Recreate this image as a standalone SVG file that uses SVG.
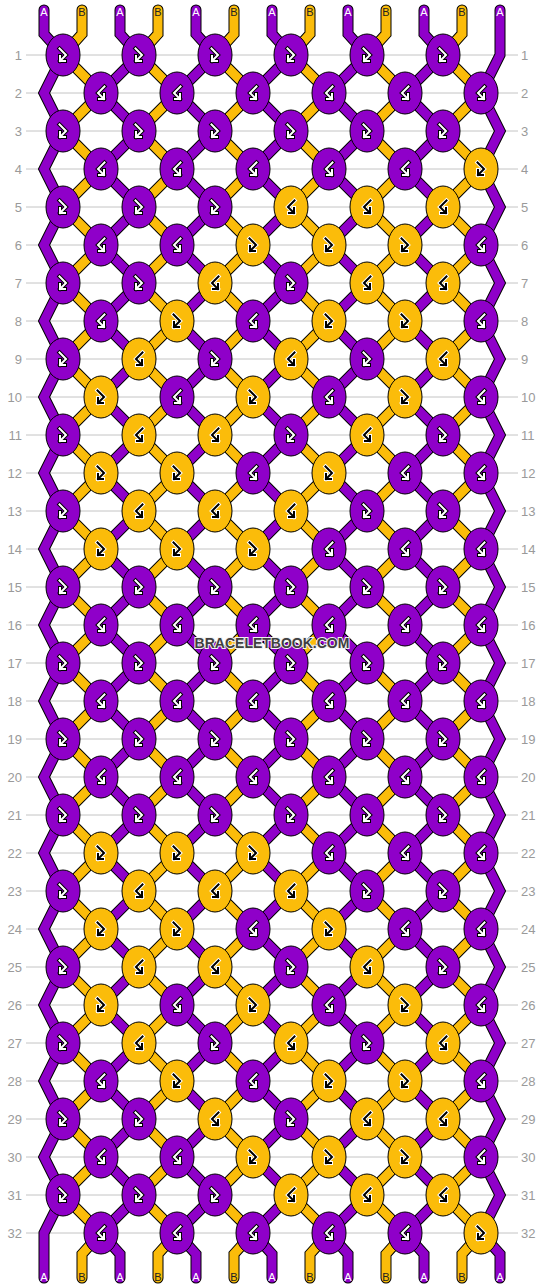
<svg xmlns="http://www.w3.org/2000/svg" xmlns:xlink="http://www.w3.org/1999/xlink" width="544" height="1288" viewBox="0 0 544 1288">
<style>
.grid{fill:none;stroke:#c4c4c4;stroke-width:1}
.rl{font-family:"Liberation Sans",Arial,sans-serif;font-size:13px;fill:#9a9a9a}
.lb{font-family:"Liberation Sans",Arial,sans-serif;font-size:11px;text-anchor:middle}
.la{fill:#ffffff}
.lbb{fill:#222222}
.so{fill:none;stroke:#000;stroke-width:11;stroke-linejoin:miter;stroke-linecap:round}
.sp{fill:none;stroke:#8f00c9;stroke-width:9;stroke-linejoin:miter;stroke-linecap:round}
.sy{fill:none;stroke:#fbbc0a;stroke-width:9;stroke-linejoin:miter;stroke-linecap:round}
.kp{fill:#8f00c9;stroke:#000;stroke-width:1}
.ky{fill:#fbbc0a;stroke:#000;stroke-width:1}
.ok{fill:none;stroke:#000;stroke-width:4;stroke-linecap:square;stroke-linejoin:miter}
.iw{fill:none;stroke:#fff;stroke-width:2;stroke-linecap:square;stroke-linejoin:miter}
.ow{fill:none;stroke:#fff;stroke-width:4;stroke-linecap:square;stroke-linejoin:miter}
.ik{fill:none;stroke:#000;stroke-width:2;stroke-linecap:square;stroke-linejoin:miter}
.wm{font-family:"Liberation Sans",Arial,sans-serif;font-size:14px;font-weight:bold;text-anchor:middle;fill:#404040;stroke:#f2f2f2;stroke-width:2;paint-order:stroke}
</style>
<defs>
<path id="ar" d="M-3.5,-6.5L3,0L-3,6M-3,1V6H2"/>
<g id="po"><ellipse class="kp" rx="17" ry="21"/><use href="#ar" class="ok"/><use href="#ar" class="iw"/></g>
<g id="pe"><ellipse class="kp" rx="17" ry="21"/><g transform="scale(-1,1)"><use href="#ar" class="ok"/><use href="#ar" class="iw"/></g></g>
<g id="yo"><ellipse class="ky" rx="17" ry="21"/><g transform="scale(-1,1)"><use href="#ar" class="ow"/><use href="#ar" class="ik"/></g></g>
<g id="ye"><ellipse class="ky" rx="17" ry="21"/><use href="#ar" class="ow"/><use href="#ar" class="ik"/></g>
<path id="s0" d="M44,10V34L63,55l-19,38l19,38l-19,38l19,38l-19,38l19,38l-19,38l19,38l-19,38l19,38l-19,38l19,38l-19,38l19,38l-19,38l19,38l-19,38l19,38l-19,38l19,38l-19,38l19,38l-19,38l19,38l-19,38l19,38l-19,38l19,38l-19,38l19,38l-19,38V1278"/>
<path id="s12" d="M500,10V55l-19,38l19,38l-19,38l19,38l-19,38l19,38l-19,38l19,38l-19,38l19,38l-19,38l19,38l-19,38l19,38l-19,38l19,38l-19,38l19,38l-19,38l19,38l-19,38l19,38l-19,38l19,38l-19,38l19,38l-19,38l19,38l-19,38l19,38l-19,38l19,21V1278"/>
<path id="ra" d="m0,0l-38,38l38,38l-38,38l38,38l-38,38l38,38l-38,38l38,38l-38,38l38,38l-38,38l38,38l-38,38l38,38l-38,38l38,38l-38,38l38,38l-38,38l38,38l-38,38l38,38l-38,38l38,38l-38,38l38,38l-38,38l38,38l-38,38l38,38l-38,38l19,21V1278"/>
<path id="s2" d="M120,10V34L139,55l-38,38l38,38l-38,38l38,38l-38,38l38,38l-38,38l38,38l-38,38l38,38l-38,38l38,38l-38,38l38,38l-38,38l38,38l-38,38l38,38l-38,38l38,38l-38,38l38,38l-38,38l38,38l-38,38l38,38l-38,38l38,38l-38,38l38,38l-38,38l19,21V1278"/>
<path id="s4" d="M196,10V34L215,55l-38,38l38,38l-38,38l38,38l-38,38l38,38l-38,38l38,38l-38,38l38,38l-38,38l38,38l-38,38l38,38l-38,38l38,38l-38,38l38,38l-38,38l38,38l-38,38l38,38l-38,38l38,38l-38,38l38,38l-38,38l38,38l-38,38l38,38l-38,38l19,21V1278"/>
<path id="s6" d="M272,10V34L291,55l-38,38l38,38l-38,38l38,38l-38,38l38,38l-38,38l38,38l-38,38l38,38l-38,38l38,38l-38,38l38,38l-38,38l38,38l-38,38l38,38l-38,38l38,38l-38,38l38,38l-38,38l38,38l-38,38l38,38l-38,38l38,38l-38,38l38,38l-38,38l19,21V1278"/>
<path id="s8" d="M348,10V34L367,55l-38,38l38,38l-38,38l38,38l-38,38l38,38l-38,38l38,38l-38,38l38,38l-38,38l38,38l-38,38l38,38l-38,38l38,38l-38,38l38,38l-38,38l38,38l-38,38l38,38l-38,38l38,38l-38,38l38,38l-38,38l38,38l-38,38l38,38l-38,38l19,21V1278"/>
<path id="s10" d="M424,10V34L443,55l-38,38l38,38l-38,38l38,38l-38,38l38,38l-38,38l38,38l-38,38l38,38l-38,38l38,38l-38,38l38,38l-38,38l38,38l-38,38l38,38l-38,38l38,38l-38,38l38,38l-38,38l38,38l-38,38l38,38l-38,38l38,38l-38,38l38,38l-38,38l19,21V1278"/>
<path id="s1" d="M82,10V34L63,55l38,38l-38,38l38,38l-38,38l38,38l-38,38l38,38l-38,38l38,38l-38,38l38,38l-38,38l38,38l-38,38l38,38l-38,38l38,38l-38,38l38,38l-38,38l38,38l-38,38l38,38l-38,38l38,38l-38,38l38,38l-38,38l38,38l-38,38l38,38l-19,21V1278"/>
<path id="s3" d="M158,10V34L139,55l38,38l-38,38l38,38l-38,38l38,38l-38,38l38,38l-38,38l38,38l-38,38l38,38l-38,38l38,38l-38,38l38,38l-38,38l38,38l-38,38l38,38l-38,38l38,38l-38,38l38,38l-38,38l38,38l-38,38l38,38l-38,38l38,38l-38,38l38,38l-19,21V1278"/>
<path id="s5" d="M234,10V34L215,55l38,38l-38,38l38,38l-38,38l38,38l-38,38l38,38l-38,38l38,38l-38,38l38,38l-38,38l38,38l-38,38l38,38l-38,38l38,38l-38,38l38,38l-38,38l38,38l-38,38l38,38l-38,38l38,38l-38,38l38,38l-38,38l38,38l-38,38l38,38l-19,21V1278"/>
<path id="s7" d="M310,10V34L291,55l38,38l-38,38l38,38l-38,38l38,38l-38,38l38,38l-38,38l38,38l-38,38l38,38l-38,38l38,38l-38,38l38,38l-38,38l38,38l-38,38l38,38l-38,38l38,38l-38,38l38,38l-38,38l38,38l-38,38l38,38l-38,38l38,38l-38,38l38,38l-19,21V1278"/>
<path id="s9" d="M386,10V34L367,55l38,38l-38,38l38,38l-38,38l38,38l-38,38l38,38l-38,38l38,38l-38,38l38,38l-38,38l38,38l-38,38l38,38l-38,38l38,38l-38,38l38,38l-38,38l38,38l-38,38l38,38l-38,38l38,38l-38,38l38,38l-38,38l38,38l-38,38l38,38l-19,21V1278"/>
<path id="s11" d="M462,10V34L443,55l38,38l-38,38l38,38l-38,38l38,38l-38,38l38,38l-38,38l38,38l-38,38l38,38l-38,38l38,38l-38,38l38,38l-38,38l38,38l-38,38l38,38l-38,38l38,38l-38,38l38,38l-38,38l38,38l-38,38l38,38l-38,38l38,38l-38,38l38,38l-19,21V1278"/>
</defs>
<rect width="544" height="1288" fill="#ffffff"/>
<path class="grid" d="M26,55H518M26,93H518M26,131H518M26,169H518M26,207H518M26,245H518M26,283H518M26,321H518M26,359H518M26,397H518M26,435H518M26,473H518M26,511H518M26,549H518M26,587H518M26,625H518M26,663H518M26,701H518M26,739H518M26,777H518M26,815H518M26,853H518M26,891H518M26,929H518M26,967H518M26,1005H518M26,1043H518M26,1081H518M26,1119H518M26,1157H518M26,1195H518M26,1233H518"/>
<g id="row-labels" class="rl">
<g text-anchor="end">
<text x="22" y="60">1</text><text x="22" y="98">2</text><text x="22" y="136">3</text><text x="22" y="174">4</text><text x="22" y="212">5</text><text x="22" y="250">6</text><text x="22" y="288">7</text><text x="22" y="326">8</text><text x="22" y="364">9</text><text x="22" y="402">10</text><text x="22" y="440">11</text><text x="22" y="478">12</text><text x="22" y="516">13</text><text x="22" y="554">14</text><text x="22" y="592">15</text><text x="22" y="630">16</text><text x="22" y="668">17</text><text x="22" y="706">18</text><text x="22" y="744">19</text><text x="22" y="782">20</text><text x="22" y="820">21</text><text x="22" y="858">22</text><text x="22" y="896">23</text><text x="22" y="934">24</text><text x="22" y="972">25</text><text x="22" y="1010">26</text><text x="22" y="1048">27</text><text x="22" y="1086">28</text><text x="22" y="1124">29</text><text x="22" y="1162">30</text><text x="22" y="1200">31</text><text x="22" y="1238">32</text>
</g>
<g text-anchor="start">
<text x="521" y="60">1</text><text x="521" y="98">2</text><text x="521" y="136">3</text><text x="521" y="174">4</text><text x="521" y="212">5</text><text x="521" y="250">6</text><text x="521" y="288">7</text><text x="521" y="326">8</text><text x="521" y="364">9</text><text x="521" y="402">10</text><text x="521" y="440">11</text><text x="521" y="478">12</text><text x="521" y="516">13</text><text x="521" y="554">14</text><text x="521" y="592">15</text><text x="521" y="630">16</text><text x="521" y="668">17</text><text x="521" y="706">18</text><text x="521" y="744">19</text><text x="521" y="782">20</text><text x="521" y="820">21</text><text x="521" y="858">22</text><text x="521" y="896">23</text><text x="521" y="934">24</text><text x="521" y="972">25</text><text x="521" y="1010">26</text><text x="521" y="1048">27</text><text x="521" y="1086">28</text><text x="521" y="1124">29</text><text x="521" y="1162">30</text><text x="521" y="1200">31</text><text x="521" y="1238">32</text>
</g>
</g>
<g id="connectors">
<g class="so">
<use href="#s0"/><use href="#s1"/><use href="#s2"/><use href="#s3"/><use href="#s4"/><use href="#s5"/><use href="#s6"/><use href="#s7"/><use href="#s8"/><use href="#s9"/><use href="#s10"/><use href="#s11"/><use href="#s12"/>
</g>
<g class="sp">
<use href="#s0"/><use href="#s2"/><use href="#s4"/><use href="#s6"/><use href="#s8"/><use href="#s10"/><use href="#s12"/>
</g>
<g class="sy">
<use href="#s1"/><use href="#s3"/><use href="#s5"/><use href="#s7"/><use href="#s9"/><use href="#s11"/>
</g>
</g>
<g id="string-labels" class="lb">
<g class="la"><text x="44" y="16">A</text><text x="120" y="16">A</text><text x="196" y="16">A</text><text x="272" y="16">A</text><text x="348" y="16">A</text><text x="424" y="16">A</text><text x="500" y="16">A</text>
<text x="44" y="1281">A</text><text x="120" y="1281">A</text><text x="196" y="1281">A</text><text x="272" y="1281">A</text><text x="348" y="1281">A</text><text x="424" y="1281">A</text><text x="500" y="1281">A</text></g>
<g class="lbb"><text x="82" y="16">B</text><text x="158" y="16">B</text><text x="234" y="16">B</text><text x="310" y="16">B</text><text x="386" y="16">B</text><text x="462" y="16">B</text>
<text x="82" y="1281">B</text><text x="158" y="1281">B</text><text x="234" y="1281">B</text><text x="310" y="1281">B</text><text x="386" y="1281">B</text><text x="462" y="1281">B</text></g>
</g>
<g id="knots">
<g id="k1-1"><use href="#po" x="63" y="55"/></g><g id="k1-2"><use href="#po" x="139" y="55"/></g><g id="k1-3"><use href="#po" x="215" y="55"/></g><g id="k1-4"><use href="#po" x="291" y="55"/></g><g id="k1-5"><use href="#po" x="367" y="55"/></g><g id="k1-6"><use href="#po" x="443" y="55"/></g>
<g id="k2-1"><use href="#pe" x="101" y="93"/></g><g id="k2-2"><use href="#pe" x="177" y="93"/></g><g id="k2-3"><use href="#pe" x="253" y="93"/></g><g id="k2-4"><use href="#pe" x="329" y="93"/></g><g id="k2-5"><use href="#pe" x="405" y="93"/></g><g id="k2-6"><use href="#pe" x="481" y="93"/></g>
<g id="k3-1"><use href="#po" x="63" y="131"/></g><g id="k3-2"><use href="#po" x="139" y="131"/></g><g id="k3-3"><use href="#po" x="215" y="131"/></g><g id="k3-4"><use href="#po" x="291" y="131"/></g><g id="k3-5"><use href="#po" x="367" y="131"/></g><g id="k3-6"><use href="#po" x="443" y="131"/></g>
<g id="k4-1"><use href="#pe" x="101" y="169"/></g><g id="k4-2"><use href="#pe" x="177" y="169"/></g><g id="k4-3"><use href="#pe" x="253" y="169"/></g><g id="k4-4"><use href="#pe" x="329" y="169"/></g><g id="k4-5"><use href="#pe" x="405" y="169"/></g><g id="k4-6"><use href="#ye" x="481" y="169"/></g>
<g id="k5-1"><use href="#po" x="63" y="207"/></g><g id="k5-2"><use href="#po" x="139" y="207"/></g><g id="k5-3"><use href="#po" x="215" y="207"/></g><g id="k5-4"><use href="#yo" x="291" y="207"/></g><g id="k5-5"><use href="#yo" x="367" y="207"/></g><g id="k5-6"><use href="#yo" x="443" y="207"/></g>
<g id="k6-1"><use href="#pe" x="101" y="245"/></g><g id="k6-2"><use href="#pe" x="177" y="245"/></g><g id="k6-3"><use href="#ye" x="253" y="245"/></g><g id="k6-4"><use href="#ye" x="329" y="245"/></g><g id="k6-5"><use href="#ye" x="405" y="245"/></g><g id="k6-6"><use href="#pe" x="481" y="245"/></g>
<g id="k7-1"><use href="#po" x="63" y="283"/></g><g id="k7-2"><use href="#po" x="139" y="283"/></g><g id="k7-3"><use href="#yo" x="215" y="283"/></g><g id="k7-4"><use href="#po" x="291" y="283"/></g><g id="k7-5"><use href="#yo" x="367" y="283"/></g><g id="k7-6"><use href="#yo" x="443" y="283"/></g>
<g id="k8-1"><use href="#pe" x="101" y="321"/></g><g id="k8-2"><use href="#ye" x="177" y="321"/></g><g id="k8-3"><use href="#pe" x="253" y="321"/></g><g id="k8-4"><use href="#ye" x="329" y="321"/></g><g id="k8-5"><use href="#ye" x="405" y="321"/></g><g id="k8-6"><use href="#pe" x="481" y="321"/></g>
<g id="k9-1"><use href="#po" x="63" y="359"/></g><g id="k9-2"><use href="#yo" x="139" y="359"/></g><g id="k9-3"><use href="#po" x="215" y="359"/></g><g id="k9-4"><use href="#yo" x="291" y="359"/></g><g id="k9-5"><use href="#po" x="367" y="359"/></g><g id="k9-6"><use href="#yo" x="443" y="359"/></g>
<g id="k10-1"><use href="#ye" x="101" y="397"/></g><g id="k10-2"><use href="#pe" x="177" y="397"/></g><g id="k10-3"><use href="#ye" x="253" y="397"/></g><g id="k10-4"><use href="#pe" x="329" y="397"/></g><g id="k10-5"><use href="#ye" x="405" y="397"/></g><g id="k10-6"><use href="#pe" x="481" y="397"/></g>
<g id="k11-1"><use href="#po" x="63" y="435"/></g><g id="k11-2"><use href="#yo" x="139" y="435"/></g><g id="k11-3"><use href="#yo" x="215" y="435"/></g><g id="k11-4"><use href="#po" x="291" y="435"/></g><g id="k11-5"><use href="#yo" x="367" y="435"/></g><g id="k11-6"><use href="#po" x="443" y="435"/></g>
<g id="k12-1"><use href="#ye" x="101" y="473"/></g><g id="k12-2"><use href="#ye" x="177" y="473"/></g><g id="k12-3"><use href="#pe" x="253" y="473"/></g><g id="k12-4"><use href="#ye" x="329" y="473"/></g><g id="k12-5"><use href="#pe" x="405" y="473"/></g><g id="k12-6"><use href="#pe" x="481" y="473"/></g>
<g id="k13-1"><use href="#po" x="63" y="511"/></g><g id="k13-2"><use href="#yo" x="139" y="511"/></g><g id="k13-3"><use href="#yo" x="215" y="511"/></g><g id="k13-4"><use href="#yo" x="291" y="511"/></g><g id="k13-5"><use href="#po" x="367" y="511"/></g><g id="k13-6"><use href="#po" x="443" y="511"/></g>
<g id="k14-1"><use href="#ye" x="101" y="549"/></g><g id="k14-2"><use href="#ye" x="177" y="549"/></g><g id="k14-3"><use href="#ye" x="253" y="549"/></g><g id="k14-4"><use href="#pe" x="329" y="549"/></g><g id="k14-5"><use href="#pe" x="405" y="549"/></g><g id="k14-6"><use href="#pe" x="481" y="549"/></g>
<g id="k15-1"><use href="#po" x="63" y="587"/></g><g id="k15-2"><use href="#po" x="139" y="587"/></g><g id="k15-3"><use href="#po" x="215" y="587"/></g><g id="k15-4"><use href="#po" x="291" y="587"/></g><g id="k15-5"><use href="#po" x="367" y="587"/></g><g id="k15-6"><use href="#po" x="443" y="587"/></g>
<g id="k16-1"><use href="#pe" x="101" y="625"/></g><g id="k16-2"><use href="#pe" x="177" y="625"/></g><g id="k16-3"><use href="#pe" x="253" y="625"/></g><g id="k16-4"><use href="#pe" x="329" y="625"/></g><g id="k16-5"><use href="#pe" x="405" y="625"/></g><g id="k16-6"><use href="#pe" x="481" y="625"/></g>
<g id="k17-1"><use href="#po" x="63" y="663"/></g><g id="k17-2"><use href="#po" x="139" y="663"/></g><g id="k17-3"><use href="#po" x="215" y="663"/></g><g id="k17-4"><use href="#po" x="291" y="663"/></g><g id="k17-5"><use href="#po" x="367" y="663"/></g><g id="k17-6"><use href="#po" x="443" y="663"/></g>
<g id="k18-1"><use href="#pe" x="101" y="701"/></g><g id="k18-2"><use href="#pe" x="177" y="701"/></g><g id="k18-3"><use href="#pe" x="253" y="701"/></g><g id="k18-4"><use href="#pe" x="329" y="701"/></g><g id="k18-5"><use href="#pe" x="405" y="701"/></g><g id="k18-6"><use href="#pe" x="481" y="701"/></g>
<g id="k19-1"><use href="#po" x="63" y="739"/></g><g id="k19-2"><use href="#po" x="139" y="739"/></g><g id="k19-3"><use href="#po" x="215" y="739"/></g><g id="k19-4"><use href="#po" x="291" y="739"/></g><g id="k19-5"><use href="#po" x="367" y="739"/></g><g id="k19-6"><use href="#po" x="443" y="739"/></g>
<g id="k20-1"><use href="#pe" x="101" y="777"/></g><g id="k20-2"><use href="#pe" x="177" y="777"/></g><g id="k20-3"><use href="#pe" x="253" y="777"/></g><g id="k20-4"><use href="#pe" x="329" y="777"/></g><g id="k20-5"><use href="#pe" x="405" y="777"/></g><g id="k20-6"><use href="#pe" x="481" y="777"/></g>
<g id="k21-1"><use href="#po" x="63" y="815"/></g><g id="k21-2"><use href="#po" x="139" y="815"/></g><g id="k21-3"><use href="#po" x="215" y="815"/></g><g id="k21-4"><use href="#po" x="291" y="815"/></g><g id="k21-5"><use href="#po" x="367" y="815"/></g><g id="k21-6"><use href="#po" x="443" y="815"/></g>
<g id="k22-1"><use href="#ye" x="101" y="853"/></g><g id="k22-2"><use href="#ye" x="177" y="853"/></g><g id="k22-3"><use href="#ye" x="253" y="853"/></g><g id="k22-4"><use href="#pe" x="329" y="853"/></g><g id="k22-5"><use href="#pe" x="405" y="853"/></g><g id="k22-6"><use href="#pe" x="481" y="853"/></g>
<g id="k23-1"><use href="#po" x="63" y="891"/></g><g id="k23-2"><use href="#yo" x="139" y="891"/></g><g id="k23-3"><use href="#yo" x="215" y="891"/></g><g id="k23-4"><use href="#yo" x="291" y="891"/></g><g id="k23-5"><use href="#po" x="367" y="891"/></g><g id="k23-6"><use href="#po" x="443" y="891"/></g>
<g id="k24-1"><use href="#ye" x="101" y="929"/></g><g id="k24-2"><use href="#ye" x="177" y="929"/></g><g id="k24-3"><use href="#pe" x="253" y="929"/></g><g id="k24-4"><use href="#ye" x="329" y="929"/></g><g id="k24-5"><use href="#pe" x="405" y="929"/></g><g id="k24-6"><use href="#pe" x="481" y="929"/></g>
<g id="k25-1"><use href="#po" x="63" y="967"/></g><g id="k25-2"><use href="#yo" x="139" y="967"/></g><g id="k25-3"><use href="#yo" x="215" y="967"/></g><g id="k25-4"><use href="#po" x="291" y="967"/></g><g id="k25-5"><use href="#yo" x="367" y="967"/></g><g id="k25-6"><use href="#po" x="443" y="967"/></g>
<g id="k26-1"><use href="#ye" x="101" y="1005"/></g><g id="k26-2"><use href="#pe" x="177" y="1005"/></g><g id="k26-3"><use href="#ye" x="253" y="1005"/></g><g id="k26-4"><use href="#pe" x="329" y="1005"/></g><g id="k26-5"><use href="#ye" x="405" y="1005"/></g><g id="k26-6"><use href="#pe" x="481" y="1005"/></g>
<g id="k27-1"><use href="#po" x="63" y="1043"/></g><g id="k27-2"><use href="#yo" x="139" y="1043"/></g><g id="k27-3"><use href="#po" x="215" y="1043"/></g><g id="k27-4"><use href="#yo" x="291" y="1043"/></g><g id="k27-5"><use href="#po" x="367" y="1043"/></g><g id="k27-6"><use href="#yo" x="443" y="1043"/></g>
<g id="k28-1"><use href="#pe" x="101" y="1081"/></g><g id="k28-2"><use href="#ye" x="177" y="1081"/></g><g id="k28-3"><use href="#pe" x="253" y="1081"/></g><g id="k28-4"><use href="#ye" x="329" y="1081"/></g><g id="k28-5"><use href="#ye" x="405" y="1081"/></g><g id="k28-6"><use href="#pe" x="481" y="1081"/></g>
<g id="k29-1"><use href="#po" x="63" y="1119"/></g><g id="k29-2"><use href="#po" x="139" y="1119"/></g><g id="k29-3"><use href="#yo" x="215" y="1119"/></g><g id="k29-4"><use href="#po" x="291" y="1119"/></g><g id="k29-5"><use href="#yo" x="367" y="1119"/></g><g id="k29-6"><use href="#yo" x="443" y="1119"/></g>
<g id="k30-1"><use href="#pe" x="101" y="1157"/></g><g id="k30-2"><use href="#pe" x="177" y="1157"/></g><g id="k30-3"><use href="#ye" x="253" y="1157"/></g><g id="k30-4"><use href="#ye" x="329" y="1157"/></g><g id="k30-5"><use href="#ye" x="405" y="1157"/></g><g id="k30-6"><use href="#pe" x="481" y="1157"/></g>
<g id="k31-1"><use href="#po" x="63" y="1195"/></g><g id="k31-2"><use href="#po" x="139" y="1195"/></g><g id="k31-3"><use href="#po" x="215" y="1195"/></g><g id="k31-4"><use href="#yo" x="291" y="1195"/></g><g id="k31-5"><use href="#yo" x="367" y="1195"/></g><g id="k31-6"><use href="#yo" x="443" y="1195"/></g>
<g id="k32-1"><use href="#pe" x="101" y="1233"/></g><g id="k32-2"><use href="#pe" x="177" y="1233"/></g><g id="k32-3"><use href="#pe" x="253" y="1233"/></g><g id="k32-4"><use href="#pe" x="329" y="1233"/></g><g id="k32-5"><use href="#pe" x="405" y="1233"/></g><g id="k32-6"><use href="#ye" x="481" y="1233"/></g>
</g>
<text class="wm" x="272" y="648">BRACELETBOOK.COM</text>
</svg>
